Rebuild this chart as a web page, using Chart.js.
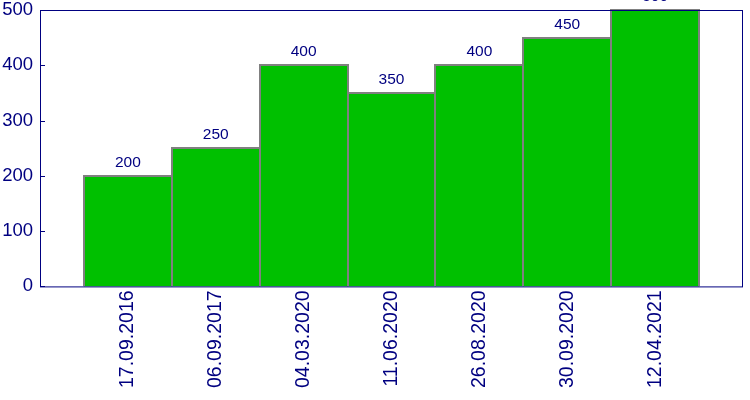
<!DOCTYPE html>
<html>
<head>
<meta charset="utf-8">
<script src="https://cdn.jsdelivr.net/npm/chart.js@4/dist/chart.umd.min.js"></script>
<style>
html,body{margin:0;padding:0;background:#fff;}
#wrap{width:750px;height:400px;position:relative;}
</style>
</head>
<body>
<div id="wrap"><canvas id="c" width="750" height="400"></canvas></div>
<script>
const categories = ['17.09.2016','06.09.2017','04.03.2020','11.06.2020','26.08.2020','30.09.2020','12.04.2021'];
const values = [200, 250, 400, 350, 400, 450, 500];
const yTicks = [0, 100, 200, 300, 400, 500];

const NAVY = '#000080';
const labels = [''].concat(categories, ['']);
const data = [null].concat(values, [null]);

const framePlugin = {
  id: 'frame',
  afterDatasetsDraw(chart) {
    const {ctx, chartArea: a, scales} = chart;
    const meta = chart.getDatasetMeta(0);
    ctx.save();
    // bar outlines, centred on the bar edges
    ctx.strokeStyle = '#808080';
    ctx.lineWidth = 2;
    meta.data.forEach((bar, i) => {
      if (data[i] == null) return;
      const p = bar.getProps(['x', 'y', 'width', 'base'], true);
      const l = Math.round(p.x - p.width / 2), r = Math.round(p.x + p.width / 2);
      const t = Math.round(p.y), b = Math.round(p.base);
      ctx.beginPath();
      ctx.moveTo(l, b);
      ctx.lineTo(l, t);
      ctx.lineTo(r, t);
      ctx.lineTo(r, b);
      ctx.stroke();
    });
    ctx.strokeStyle = NAVY;
    ctx.lineWidth = 1;
    ctx.strokeRect(a.left + 0.5, a.top + 0.5, a.right - a.left - 1, a.bottom - a.top);
    yTicks.forEach(v => {
      const y = Math.round(scales.y.getPixelForValue(v)) + 0.5;
      ctx.beginPath();
      ctx.moveTo(a.left, y);
      ctx.lineTo(a.left + 5, y);
      ctx.stroke();
    });
    ctx.fillStyle = NAVY;
    ctx.font = '15.5px "Liberation Sans", Arial, sans-serif';
    ctx.textAlign = 'center';
    ctx.textBaseline = 'alphabetic';
    meta.data.forEach((bar, i) => {
      if (data[i] == null) return;
      ctx.fillText(String(data[i]), bar.x, bar.y - 9);
    });
    ctx.restore();
  }
};

new Chart(document.getElementById('c'), {
  type: 'bar',
  data: {
    labels: labels,
    datasets: [{
      data: data,
      backgroundColor: '#00C000',
      borderWidth: 0,
      barPercentage: 1,
      categoryPercentage: 1
    }]
  },
  options: {
    responsive: false,
    animation: false,
    devicePixelRatio: 1,
    layout: {padding: {top: 10, right: 7, left: 2, bottom: 8}},
    plugins: {legend: {display: false}, tooltip: {enabled: false}},
    scales: {
      x: {
        offset: false,
        grid: {display: false, drawTicks: false},
        border: {display: false},
        afterFit(s) { s.paddingLeft = 0; s.paddingRight = 0; },
        ticks: {
          color: NAVY,
          font: {family: '"Liberation Sans", Arial, sans-serif', size: 19.5},
          maxRotation: 90, minRotation: 90,
          autoSkip: false,
          padding: 4
        }
      },
      y: {
        min: 0, max: 500,
        afterBuildTicks(scale) { scale.ticks = yTicks.map(v => ({value: v})); },
        afterFit(s) { s.paddingTop = 0; s.paddingBottom = 0; s.width = 38; },
        grid: {display: false, drawTicks: false},
        border: {display: false},
        ticks: {
          color: NAVY,
          font: {family: '"Liberation Sans", Arial, sans-serif', size: 18.5},
          padding: 7
        }
      }
    }
  },
  plugins: [framePlugin]
});
</script>
</body>
</html>
